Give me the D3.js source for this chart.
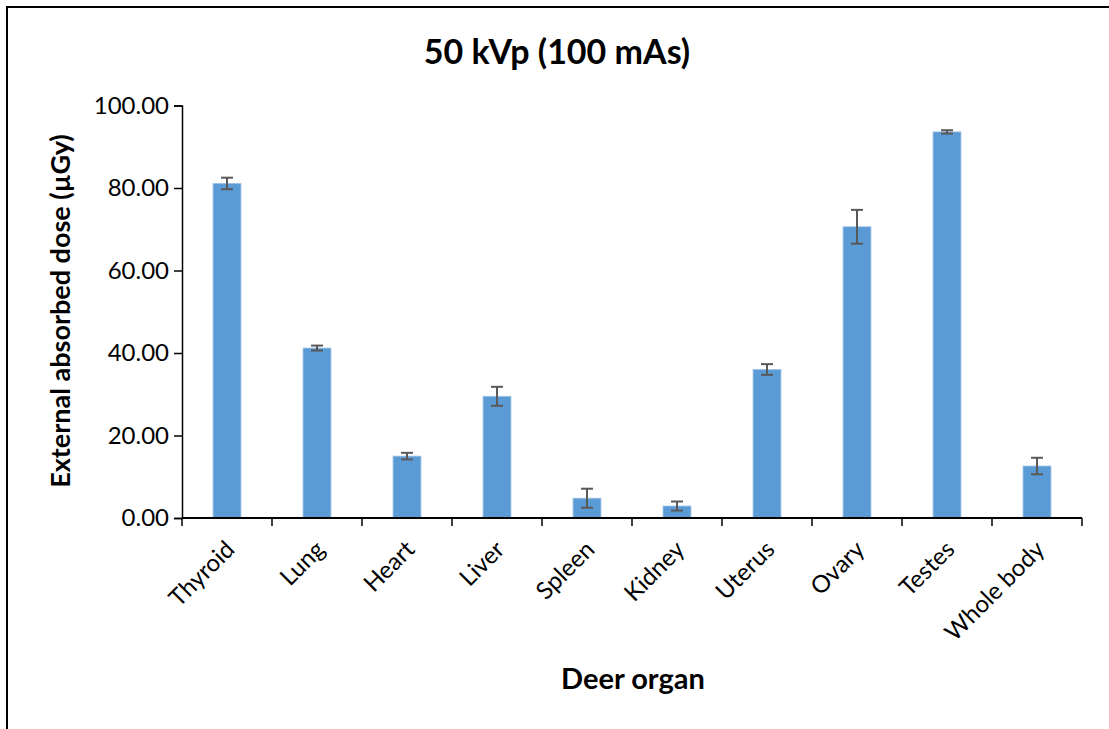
<!DOCTYPE html>
<html>
<head>
<meta charset="utf-8">
<script src="https://cdn.jsdelivr.net/npm/d3@7"></script>
<style>
  html, body { margin: 0; padding: 0; background: #fff; }
  svg { display: block; font-family: Lato, "Open Sans", sans-serif; }
</style>
</head>
<body>
<svg id="chart" width="1109" height="729"></svg>
<script>
// Dose per organ (µGy) with standard deviation
const organs = ["Thyroid", "Lung", "Heart", "Liver", "Spleen", "Kidney", "Uterus", "Ovary", "Testes", "Whole body"];
const doses  = [81.1, 41.2, 15.0, 29.5, 4.8, 2.9, 36.0, 70.6, 93.6, 12.6];
const errors = [1.4, 0.6, 0.8, 2.3, 2.3, 1.1, 1.3, 4.1, 0.4, 2.0];
const yTicks = [0, 20, 40, 60, 80, 100];

const titleText = "50 kVp (100 mAs)";
const xTitle = "Deer organ";
const yTitle = "External absorbed dose (µGy)";

const svg = d3.select("#chart");
const margin = { left: 182, right: 27, top: 105.5, bottom: 211 };
const W = 1109, H = 729;

// outer chart frame (right and bottom edges sit past the canvas)
svg.append("rect")
  .attr("x", 7).attr("y", 7)
  .attr("width", 1120).attr("height", 740)
  .attr("fill", "#fff").attr("stroke", "#000").attr("stroke-width", 2);

const x = d3.scaleBand()
  .domain(organs)
  .range([margin.left, W - margin.right])
  .paddingInner(0.69).paddingOuter(0.345);

const y = d3.scaleLinear()
  .domain([0, 100])
  .range([H - margin.bottom, margin.top]);

// bars
svg.append("g").selectAll("rect")
  .data(organs)
  .join("rect")
  .attr("x", d => x(d))
  .attr("y", (d, i) => y(doses[i]))
  .attr("width", x.bandwidth())
  .attr("height", (d, i) => y(0) - y(doses[i]))
  .attr("fill", "#5B9BD5")
  .attr("stroke", "#9DC3E6")
  .attr("stroke-width", 0.8);

// error bars
const eb = svg.append("g").attr("stroke", "#595959").attr("stroke-width", 2).attr("fill", "none");
organs.forEach((d, i) => {
  const cx = x(d) + x.bandwidth() / 2;
  const hi = y(doses[i] + errors[i]);
  const lo = y(doses[i] - errors[i]);
  eb.append("line").attr("x1", cx).attr("x2", cx).attr("y1", hi).attr("y2", lo);
  eb.append("line").attr("x1", cx - 6).attr("x2", cx + 6).attr("y1", hi).attr("y2", hi);
  eb.append("line").attr("x1", cx - 6).attr("x2", cx + 6).attr("y1", lo).attr("y2", lo);
});

// y axis
const yAxis = svg.append("g")
  .attr("transform", `translate(${margin.left},0)`)
  .call(d3.axisLeft(y).tickValues(yTicks).tickFormat(d3.format(".2f")).tickSize(8).tickPadding(5));
yAxis.select(".domain").attr("stroke", "#000").attr("stroke-width", 1.5);
yAxis.selectAll(".tick line").attr("stroke", "#000").attr("stroke-width", 1.5);
yAxis.selectAll(".tick text")
  .attr("font-family", "Lato, sans-serif")
  .attr("font-size", 24).attr("fill", "#000");

// x axis: ticks between categories
const xAxisG = svg.append("g").attr("transform", `translate(0,${y(0)})`);
xAxisG.append("line")
  .attr("x1", margin.left).attr("x2", W - margin.right)
  .attr("stroke", "#000").attr("stroke-width", 2);
const step = x.step();
const boundaries = organs.map(d => x(d) - x.paddingOuter() * step).concat([W - margin.right]);
xAxisG.selectAll("line.tk")
  .data(boundaries)
  .join("line").attr("class", "tk")
  .attr("x1", d => d).attr("x2", d => d)
  .attr("y1", 0).attr("y2", 8)
  .attr("stroke", "#000").attr("stroke-width", 1.5);

// rotated category labels
xAxisG.selectAll("text.lbl")
  .data(organs)
  .join("text").attr("class", "lbl")
  .attr("transform", d => `translate(${x(d) + x.bandwidth() / 2 + 9},${33}) rotate(-45)`)
  .attr("text-anchor", "end")
  .attr("font-size", 24)
  .attr("fill", "#000")
  .text(d => d);

// titles
svg.append("text")
  .attr("x", 557).attr("y", 64)
  .attr("text-anchor", "middle")
  .attr("font-size", 34).attr("font-weight", "bold")
  .text(titleText);

svg.append("text")
  .attr("x", 633).attr("y", 689)
  .attr("text-anchor", "middle")
  .attr("font-size", 29).attr("font-weight", "bold")
  .text(xTitle);

svg.append("text")
  .attr("transform", `translate(70,311) rotate(-90)`)
  .attr("text-anchor", "middle")
  .attr("font-size", 27).attr("font-weight", "bold")
  .text(yTitle);
</script>
</body>
</html>
